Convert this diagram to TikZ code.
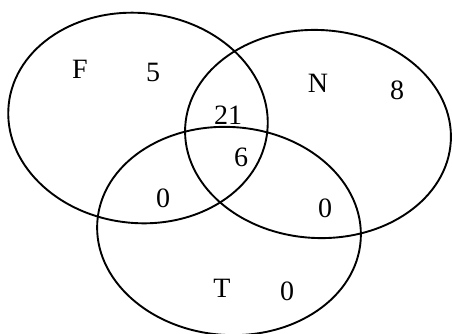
\documentclass[tikz,border=0pt]{standalone}
\usepackage{fontspec}
\setmainfont{Liberation Serif}
\usepackage{tikz}

\begin{document}
\begin{tikzpicture}[x=1pt,y=-1pt,
      venn/.style={draw=black,line width=1.9pt},
      lbl/.style={font=\fontsize{28}{32}\selectfont,inner sep=0pt}]
    \useasboundingbox (0,0) rectangle (452,333);
    % the three sets
    \draw[venn,rotate around={-6:(138,118)}] (138,118) ellipse [x radius=130pt,y radius=105pt];
    \draw[venn,rotate around={-3:(318,134)}] (318,134) ellipse [x radius=133pt,y radius=104pt];
    \draw[venn,rotate around={-4:(229,231)}] (229,231) ellipse [x radius=132pt,y radius=104pt];
    % set names
    \node[lbl] (nameF) at (80,69) {F};
    \node[lbl] (nameN) at (318,83) {N};
    \node[lbl] (nameT) at (222,288) {T};
    % counts
    \node[lbl] (onlyF) at (153,72) {5};
    \node[lbl] (onlyN) at (397,90) {8};
    \node[lbl] (onlyT) at (287,291) {0};
    \node[lbl] (fn) at (228,115) {21};
    \node[lbl] (fnt) at (241,157) {6};
    \node[lbl] (ft) at (163,198) {0};
    \node[lbl] (nt) at (325,208) {0};
\end{tikzpicture}
\end{document}
